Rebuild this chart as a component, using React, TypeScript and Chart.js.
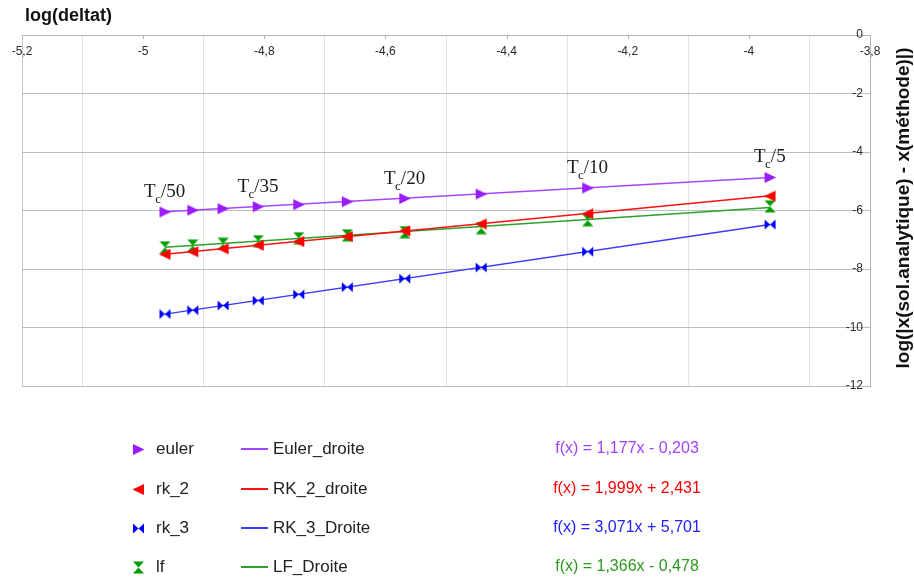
import React, { useEffect, useRef } from 'react';
import { Chart, registerables } from 'chart.js';

Chart.register(...registerables);

// log10(delta t) for Tc/50 ... Tc/5
const xLogDt = [-4.964, -4.918, -4.868, -4.810, -4.743, -4.663, -4.568, -4.442, -4.266, -3.965];
const eulerY = [-6.05, -5.99, -5.94, -5.87, -5.80, -5.70, -5.59, -5.44, -5.23, -4.87];
const rk2Y = [-7.50, -7.41, -7.31, -7.19, -7.06, -6.89, -6.70, -6.46, -6.11, -5.51];
const rk3Y = [-9.54, -9.41, -9.25, -9.08, -8.87, -8.62, -8.33, -7.95, -7.41, -6.48];
const lfY = [-7.26, -7.20, -7.14, -7.05, -6.95, -6.85, -6.74, -6.60, -6.33, -5.86];

// trend line end points
const trendX = [-4.964, -3.965];
const eulerTrend = [-6.046, -4.870];
const rk2Trend = [-7.492, -5.495];
const rk3Trend = [-9.543, -6.475];
const lfTrend = [-7.259, -5.894];

// annotations above the euler points
const annotIndex = [0, 3, 6, 8, 9];
const annotDivisor = ['50', '35', '20', '10', '5'];

// tick labels
const xTickValues = [-5.2, -5, -4.8, -4.6, -4.4, -4.2, -4, -3.8];
const xTickLabels = ['-5,2', '-5', '-4,8', '-4,6', '-4,4', '-4,2', '-4', '-3,8'];
const yTickValues = [0, -2, -4, -6, -8, -10, -12];
const yTickLabels = ['0', '-2', '-4', '-6', '-8', '-10', '-12'];

// legend
const seriesNames = ['euler', 'rk_2', 'rk_3', 'lf'];
const trendNames = ['Euler_droite', 'RK_2_droite', 'RK_3_Droite', 'LF_Droite'];
const formulas = ['f(x) = 1,177x - 0,203', 'f(x) = 1,999x + 2,431', 'f(x) = 3,071x + 5,701', 'f(x) = 1,366x - 0,478'];

const markerColors = ['#9b1bff', '#ff0000', '#0000ff', '#009d00'];
const lineColors = ['#a546ff', '#ff1010', '#3a3aff', '#2ea02e'];
const formulaColors = ['#a040ff', '#ff0000', '#2020ff', '#2a9a1a'];

const SANS = '"Liberation Sans", Arial, sans-serif';
const SERIF = '"Liberation Serif", "Times New Roman", serif';

function makeMarker(kind: string, color: string): HTMLCanvasElement {
  const c = document.createElement('canvas');
  const W = 13, H = 13;
  c.width = W;
  c.height = H;
  const g = c.getContext('2d')!;
  g.fillStyle = color;
  g.beginPath();
  if (kind === 'right') {
    g.moveTo(1, 1); g.lineTo(12.5, 6.5); g.lineTo(1, 12); g.closePath();
  } else if (kind === 'left') {
    g.moveTo(12, 1); g.lineTo(0.5, 6.5); g.lineTo(12, 12); g.closePath();
  } else if (kind === 'bowtie') {
    g.moveTo(1, 1.5); g.lineTo(6.5, 6.5); g.lineTo(1, 11.5); g.closePath();
    g.moveTo(12, 1.5); g.lineTo(6.5, 6.5); g.lineTo(12, 11.5); g.closePath();
  } else {
    g.moveTo(1, 0.5); g.lineTo(12, 0.5); g.lineTo(6.5, 6.5); g.closePath();
    g.moveTo(1, 12.5); g.lineTo(12, 12.5); g.lineTo(6.5, 6.5); g.closePath();
  }
  g.fill();
  return c;
}

export default function App() {
  const ref = useRef<HTMLCanvasElement | null>(null);

  useEffect(() => {
    if (!ref.current) return;
    const markers = [
      makeMarker('right', markerColors[0]),
      makeMarker('left', markerColors[1]),
      makeMarker('bowtie', markerColors[2]),
      makeMarker('hourglass', markerColors[3]),
    ];
    const seriesY = [eulerY, rk2Y, rk3Y, lfY];
    const trends = [eulerTrend, rk2Trend, rk3Trend, lfTrend];

    const pointSets = seriesY.map((ys, s) => ({
      label: seriesNames[s],
      data: xLogDt.map((x, i) => ({ x, y: ys[i] })),
      showLine: false,
      pointStyle: markers[s] as any,
      pointRadius: 6,
      order: 1,
    }));
    const lineSets = trends.map((t, s) => ({
      label: trendNames[s],
      data: trendX.map((x, i) => ({ x, y: t[i] })),
      showLine: true,
      borderColor: lineColors[s],
      borderWidth: 1.5,
      pointRadius: 0,
      fill: false,
      order: 2,
    }));

    const overlay = {
      id: 'overlay',
      afterDraw(chart: any) {
        const ctx = chart.ctx as CanvasRenderingContext2D;
        const xs = chart.scales.x;
        const ys = chart.scales.y;
        const { top, right } = chart.chartArea;
        ctx.save();
        // small tick marks under the top axis
        ctx.strokeStyle = '#b3b3b3';
        ctx.lineWidth = 1;
        xTickValues.forEach((v) => {
          const px = Math.round(xs.getPixelForValue(v)) + 0.5;
          ctx.beginPath();
          ctx.moveTo(px, top);
          ctx.lineTo(px, top + 4);
          ctx.stroke();
        });
        // tick labels
        ctx.fillStyle = '#2a2a2a';
        ctx.font = `12px ${SANS}`;
        ctx.textAlign = 'center';
        ctx.textBaseline = 'middle';
        xTickValues.forEach((v, i) => {
          ctx.fillText(xTickLabels[i], xs.getPixelForValue(v), top + 17);
        });
        ctx.textAlign = 'right';
        yTickValues.forEach((v, i) => {
          ctx.fillText(yTickLabels[i], right - 7, ys.getPixelForValue(v));
        });
        // axis titles
        ctx.fillStyle = '#111111';
        ctx.font = `bold 18px ${SANS}`;
        ctx.textAlign = 'left';
        ctx.textBaseline = 'alphabetic';
        ctx.fillText('log(deltat)', 25, 21);
        ctx.save();
        ctx.translate(904, 208);
        ctx.rotate(-Math.PI / 2);
        ctx.font = `bold 19px ${SANS}`;
        ctx.textAlign = 'center';
        ctx.textBaseline = 'middle';
        ctx.fillText('log(|x(sol.analytique) - x(méthode)|)', 0, 0);
        ctx.restore();
        // Tc/N annotations
        ctx.fillStyle = '#1a1a1a';
        ctx.textAlign = 'left';
        ctx.textBaseline = 'alphabetic';
        annotIndex.forEach((idx, k) => {
          const px = xs.getPixelForValue(xLogDt[idx]);
          const py = ys.getPixelForValue(eulerY[idx]);
          ctx.font = `19px ${SERIF}`;
          const wT = ctx.measureText('T').width;
          const rest = '/' + annotDivisor[k];
          const wR = ctx.measureText(rest).width;
          ctx.font = `13px ${SERIF}`;
          const wc = ctx.measureText('c').width;
          const w = wT + wc + wR;
          const x0 = px - w / 2;
          const base = py - 15;
          ctx.font = `19px ${SERIF}`;
          ctx.fillText('T', x0, base);
          ctx.fillText(rest, x0 + wT + wc - 0.5, base);
          ctx.font = `13px ${SERIF}`;
          ctx.fillText('c', x0 + wT - 0.5, base + 6);
        });
        // legend
        const rows = [449, 489, 528, 567];
        rows.forEach((ry, s) => {
          const m = markers[s];
          ctx.drawImage(m, Math.round(138 - m.width / 2), Math.round(ry - m.height / 2));
          ctx.fillStyle = '#222222';
          ctx.font = `17px ${SANS}`;
          ctx.textAlign = 'left';
          ctx.textBaseline = 'middle';
          ctx.fillText(seriesNames[s], 156, ry);
          ctx.strokeStyle = lineColors[s];
          ctx.lineWidth = 2;
          ctx.beginPath();
          ctx.moveTo(241, ry);
          ctx.lineTo(268, ry);
          ctx.stroke();
          ctx.fillText(trendNames[s], 273, ry);
          ctx.fillStyle = formulaColors[s];
          ctx.font = `16px ${SANS}`;
          ctx.textAlign = 'center';
          ctx.fillText(formulas[s], 627, ry);
        });
        ctx.restore();
      },
    };

    const chart = new Chart(ref.current, {
      type: 'scatter',
      data: { datasets: [...pointSets, ...lineSets] as any },
      options: {
        animation: false,
        responsive: false,
        devicePixelRatio: 1,
        layout: { padding: { left: 22, top: 35, right: 44, bottom: 194 } },
        plugins: { legend: { display: false }, tooltip: { enabled: false } },
        scales: {
          x: {
            type: 'linear',
            position: 'top',
            min: -5.2,
            max: -3.8,
            ticks: { display: false, stepSize: 0.1 },
            grid: {
              drawTicks: false,
              lineWidth: 1,
              color: (c: any) => {
                const v = c.tick ? c.tick.value : 0;
                const k = Math.round(v * 10);
                if (k === -52) return '#c8c8c8';
                return Math.abs(k) % 2 === 1 ? '#e2e2e2' : 'rgba(0,0,0,0)';
              },
            },
            border: { display: true, color: '#b3b3b3' },
          },
          y: {
            type: 'linear',
            position: 'right',
            min: -12,
            max: 0,
            ticks: { display: false, stepSize: 2 },
            grid: { drawTicks: false, color: '#bdbdbd', lineWidth: 1 },
            border: { display: true, color: '#b3b3b3' },
          },
        },
      },
      plugins: [overlay],
    });
    return () => chart.destroy();
  }, []);

  return (
    <div style={{ position: 'absolute', left: 0, top: 0, width: 914, height: 580, background: '#ffffff' }}>
      <canvas ref={ref} width={914} height={580} style={{ display: 'block' }} />
    </div>
  );
}
